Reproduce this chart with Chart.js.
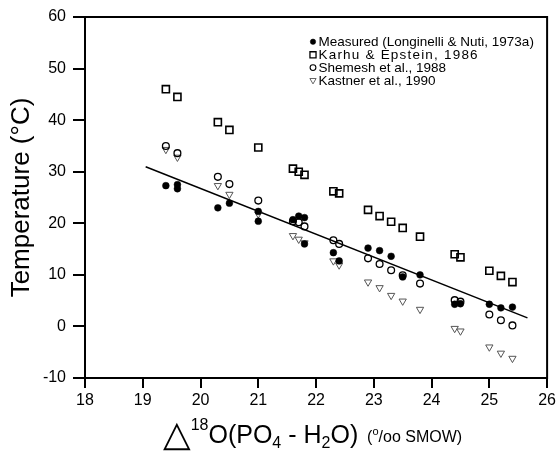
<!DOCTYPE html>
<html><head><meta charset="utf-8">
<script src="https://cdn.jsdelivr.net/npm/chart.js@4.4.1/dist/chart.umd.min.js"></script>
<style>html,body{margin:0;padding:0;background:#fff;}canvas{display:block;}</style>
</head><body>
<canvas id="c" width="559" height="452"></canvas>
<script>
const xTickValues = [18, 19, 20, 21, 22, 23, 24, 25, 26];
const yTickValues = [-10, 0, 10, 20, 30, 40, 50, 60];

const seriesNames = [
  'Measured (Longinelli & Nuti, 1973a)',
  'Karhu & Epstein, 1986',
  'Shemesh et al., 1988',
  'Kastner et al., 1990'
];

const measuredX = [19.4, 19.6, 19.6, 20.3, 20.5, 21.0, 21.0, 21.6, 21.7, 21.8, 21.8, 22.3, 22.4, 22.9, 23.1, 23.3, 23.5, 23.8, 24.4, 24.5, 25.0, 25.2, 25.4];
const measuredY = [27.3, 27.5, 26.7, 23.0, 23.9, 22.3, 20.4, 20.7, 21.4, 21.1, 16.0, 14.3, 12.7, 15.2, 14.7, 13.6, 9.6, 10.0, 4.3, 4.4, 4.3, 3.6, 3.75];

const karhuX = [19.4, 19.6, 20.3, 20.5, 21.0, 21.6, 21.7, 21.8, 22.3, 22.4, 22.9, 23.1, 23.3, 23.5, 23.8, 24.4, 24.5, 25.0, 25.2, 25.4];
const karhuY = [46.0, 44.5, 39.6, 38.1, 34.7, 30.6, 30.0, 29.4, 26.2, 25.8, 22.6, 21.4, 20.3, 19.1, 17.4, 14.0, 13.4, 10.8, 9.8, 8.6];

const shemeshX = [19.4, 19.6, 20.3, 20.5, 21.0, 21.6, 21.7, 21.8, 22.3, 22.4, 22.9, 23.1, 23.3, 23.5, 23.8, 24.4, 24.5, 25.0, 25.2, 25.4];
const shemeshY = [35.0, 33.6, 29.0, 27.6, 24.4, 20.4, 20.2, 19.4, 16.7, 16.0, 13.2, 12.1, 10.9, 9.9, 8.3, 5.1, 4.8, 2.3, 1.2, 0.2];

const kastnerX = [19.4, 19.6, 20.3, 20.5, 21.0, 21.6, 21.7, 21.8, 22.3, 22.4, 22.9, 23.1, 23.3, 23.5, 23.8, 24.4, 24.5, 25.0, 25.2, 25.4];
const kastnerY = [34.3, 32.8, 27.3, 25.6, 21.8, 17.6, 16.9, 16.2, 12.7, 11.9, 8.6, 7.5, 6.0, 4.9, 3.3, -0.4, -0.9, -4.0, -5.2, -6.2];

const fitLineX = [19.05, 25.66];
const fitLineY = [30.95, 1.66];

const yAxisTitle = 'Temperature (°C)';
const xAxisTitleRuns = [
  {t: '△', size: 36, dy: 3, family: "'DejaVu Sans', sans-serif"},
  {t: '18', size: 16, dy: -13},
  {t: 'O(PO', size: 25, dy: 0},
  {t: '4', size: 16, dy: 5},
  {t: ' - H', size: 25, dy: 0},
  {t: '2', size: 16, dy: 5},
  {t: 'O)', size: 25, dy: 0},
  {t: '  (', size: 16, dy: -1},
  {t: 'o', size: 11, dy: -8},
  {t: '/oo SMOW)', size: 16, dy: -1}
];

const FONT = "Arial, 'Liberation Sans', Helvetica, sans-serif";
function pts(xs, ys) { return xs.map((x, i) => ({x: x, y: ys[i]})); }

const legendMarks = [
  {pointStyle: 'circle', radius: 2.7, rotation: 0, borderWidth: 0.5, fill: '#000', stroke: '#000'},
  {pointStyle: 'rect', radius: 4.3, rotation: 0, borderWidth: 1.3, fill: 'rgba(0,0,0,0)', stroke: '#000'},
  {pointStyle: 'circle', radius: 2.9, rotation: 0, borderWidth: 1.1, fill: 'rgba(0,0,0,0)', stroke: '#000'},
  {pointStyle: 'triangle', radius: 3.6, rotation: 180, borderWidth: 0.9, fill: 'rgba(0,0,0,0)', stroke: '#555'}
];

const X_TICK_LEN = 10, Y_TICK_LEN = 12;

const decorPlugin = {
  id: 'decor',
  afterDraw(chart) {
    const ctx = chart.ctx;
    const a = chart.chartArea;
    const sx = chart.scales.x, sy = chart.scales.y;
    ctx.save();
    ctx.strokeStyle = '#000';
    ctx.lineWidth = 2;
    ctx.strokeRect(a.left, a.top, a.right - a.left, a.bottom - a.top);
    // outward tick marks from the library scales
    ctx.beginPath();
    xTickValues.forEach(v => {
      const px = Math.round(sx.getPixelForValue(v));
      ctx.moveTo(px, a.bottom);
      ctx.lineTo(px, a.bottom + X_TICK_LEN);
    });
    yTickValues.forEach(v => {
      const py = Math.round(sy.getPixelForValue(v));
      ctx.moveTo(a.left, py);
      ctx.lineTo(a.left - Y_TICK_LEN, py);
    });
    ctx.stroke();
    // legend
    const rows = [41.7, 54.8, 67.6, 80.3];
    ctx.font = '13.5px ' + FONT;
    ctx.textBaseline = 'middle';
    ctx.textAlign = 'left';
    seriesNames.forEach((name, i) => {
      const m = legendMarks[i];
      ctx.fillStyle = m.fill;
      ctx.strokeStyle = m.stroke;
      ctx.lineWidth = m.borderWidth;
      Chart.helpers.drawPoint(ctx, m, 313, rows[i]);
      ctx.fillStyle = '#000';
      ctx.letterSpacing = (i === 1) ? '1.2px' : '0px';
      ctx.fillText(name, 318.5, rows[i] + 0.5);
    });
    ctx.letterSpacing = '0px';
    // y title
    ctx.save();
    ctx.translate(22, (a.top + a.bottom) / 2);
    ctx.rotate(-Math.PI / 2);
    ctx.font = '26px ' + FONT;
    ctx.textAlign = 'center';
    ctx.textBaseline = 'middle';
    ctx.fillStyle = '#000';
    ctx.fillText(yAxisTitle, 0, 0);
    ctx.restore();
    // x title
    let x = 163;
    const base = 443;
    ctx.textBaseline = 'alphabetic';
    ctx.fillStyle = '#000';
    xAxisTitleRuns.forEach(r => {
      ctx.font = r.size + 'px ' + (r.family || FONT);
      ctx.fillText(r.t, x, base + r.dy);
      x += ctx.measureText(r.t).width;
    });
    ctx.restore();
  }
};

new Chart(document.getElementById('c'), {
  type: 'scatter',
  data: {
    datasets: [
      {label: seriesNames[0], data: pts(measuredX, measuredY), pointStyle: 'circle', pointRadius: 3.4,
       backgroundColor: '#000', borderColor: '#000', borderWidth: 0.5},
      {label: seriesNames[1], data: pts(karhuX, karhuY), pointStyle: 'rect', pointRadius: 5,
       backgroundColor: 'rgba(0,0,0,0)', borderColor: '#000', borderWidth: 1.6},
      {label: seriesNames[2], data: pts(shemeshX, shemeshY), pointStyle: 'circle', pointRadius: 3.4,
       backgroundColor: 'rgba(0,0,0,0)', borderColor: '#000', borderWidth: 1.3},
      {label: seriesNames[3], data: pts(kastnerX, kastnerY), pointStyle: 'triangle', pointRotation: 180, pointRadius: 4.2,
       backgroundColor: 'rgba(0,0,0,0)', borderColor: '#555', borderWidth: 1},
      {label: 'fit', data: pts(fitLineX, fitLineY), showLine: true, pointRadius: 0,
       borderColor: '#000', borderWidth: 1.5, fill: false}
    ]
  },
  options: {
    responsive: false,
    devicePixelRatio: 1,
    animation: false,
    events: [],
    layout: {padding: {left: 0, top: 17, right: 11, bottom: 0}},
    plugins: {legend: {display: false}, tooltip: {enabled: false}},
    scales: {
      x: {
        type: 'linear', min: 18, max: 26,
        afterBuildTicks: s => { s.ticks = xTickValues.map(v => ({value: v})); },
        afterFit: s => { s.height = 74; },
        ticks: {font: {size: 16, family: FONT}, color: '#000', padding: 3},
        grid: {display: true, drawOnChartArea: false, drawTicks: true, tickLength: X_TICK_LEN, tickWidth: 2, tickColor: '#000', color: '#000', lineWidth: 2},
        border: {display: true, width: 2, color: '#000'}
      },
      y: {
        type: 'linear', min: -10, max: 60,
        afterBuildTicks: s => { s.ticks = yTickValues.map(v => ({value: v})); },
        afterFit: s => { s.width = 85; },
        ticks: {font: {size: 16, family: FONT}, color: '#000', padding: 7},
        grid: {display: true, drawOnChartArea: false, drawTicks: true, tickLength: Y_TICK_LEN, tickWidth: 2, tickColor: '#000', color: '#000', lineWidth: 2},
        border: {display: true, width: 2, color: '#000'}
      }
    }
  },
  plugins: [decorPlugin]
});
</script>
</body></html>
